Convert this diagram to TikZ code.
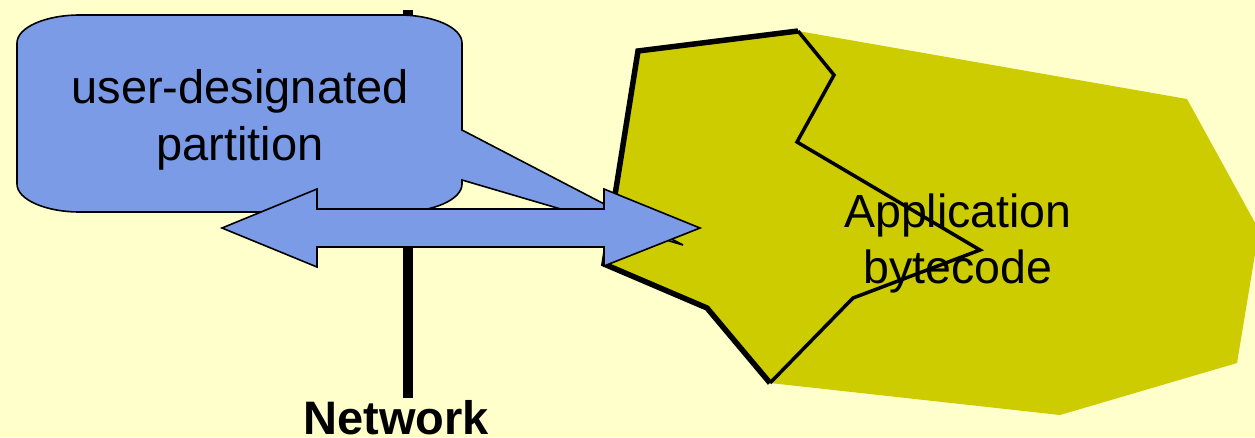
\documentclass[tikz,border=0pt]{standalone}
\usepackage{fontspec}
\setmainfont{Liberation Sans}
\definecolor{paper}{RGB}{255,255,204}
\definecolor{calloutblue}{RGB}{123,155,230}
\definecolor{olive}{RGB}{204,204,0}
\begin{document}
\begin{tikzpicture}[x=1pt,y=-1pt,
  thinline/.style={draw=black,line width=1.6pt,line join=miter},
  blueshape/.style={thinline,fill=calloutblue},
  bigtext/.style={font=\fontsize{47}{57}\selectfont,align=center,inner sep=0pt},
  apptext/.style={font=\fontsize{46.5}{56}\selectfont,align=center,inner sep=0pt},
  nettext/.style={font=\fontsize{47}{56}\selectfont\bfseries,inner sep=0pt,anchor=base}]
  \useasboundingbox (0,0) rectangle (1255,437);
  \clip (0,0) rectangle (1255,437);
  \fill[paper] (0,0) rectangle (1255,437);

  % application bytecode region
  \coordinate (b1) at (638,51);
  \coordinate (b2) at (798,31);
  \coordinate (b3) at (1187,99);
  \coordinate (b4) at (1259,230);
  \coordinate (b5) at (1237,363);
  \coordinate (b6) at (1060,415);
  \coordinate (b7) at (770,383);
  \coordinate (b8) at (707,308);
  \coordinate (b9) at (604,264);
  \fill[olive] (b1) -- (b2) -- (b3) -- (b4) -- (b5) -- (b6) -- (b7) -- (b8) -- (b9) -- cycle;

  % partition boundary cut into the bytecode
  \coordinate (z1) at (834,75);
  \coordinate (z2) at (797,142);
  \coordinate (z3) at (980,250);
  \coordinate (z4) at (853,298);
  \draw[line width=5.5pt,line join=miter] (b2) -- (b1) -- (b9) -- (b8) -- (b7);
  \draw[line width=3.5pt,line join=miter] (b2) -- (z1) -- (z2) -- (z3) -- (z4) -- (b7);

  % network line
  \coordinate (nettop) at (408,10);
  \coordinate (netbot) at (408,398);
  \draw[line width=10pt] (nettop) -- (netbot);

  % callout
  \coordinate (tip) at (683,245);
  \draw[blueshape] (462,130) -- (462,43)
    arc[start angle=0,end angle=90,x radius=63pt,y radius=28pt] -- (80,15)
    arc[start angle=90,end angle=180,x radius=63pt,y radius=28pt] -- (17,184)
    arc[start angle=180,end angle=270,x radius=63pt,y radius=28pt] -- (399,212)
    arc[start angle=270,end angle=360,x radius=63pt,y radius=28pt] -- (462,180)
    -- (tip) -- cycle;
  \node[bigtext] (part) at (240,119.5) {user-designated\\partition};

  % double arrow
  \draw[blueshape] (222,228) -- (317,189) -- (317,209) -- (604,209) -- (604,189)
    -- (700,228) -- (604,266) -- (604,247) -- (317,247) -- (317,267) -- cycle;

  \node[apptext] (app) at (958,243) {Application\\bytecode};
  \node[nettext] (net) at (396,434) {Network};
\end{tikzpicture}
\end{document}
